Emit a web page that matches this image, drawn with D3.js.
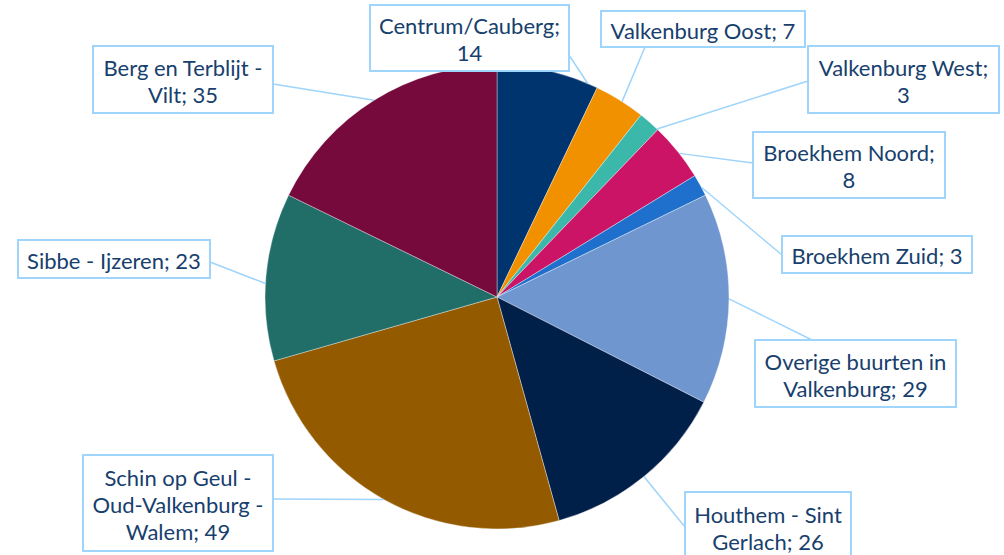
<!DOCTYPE html>
<html>
<head>
<meta charset="utf-8">
<script src="https://cdn.jsdelivr.net/npm/d3@7"></script>
<style>
  body { margin: 0; background: #fff; }
  svg { display: block; }
</style>
</head>
<body>
<svg id="pie"></svg>
<script>
const categories = ['Centrum/Cauberg', 'Valkenburg Oost', 'Valkenburg West', 'Broekhem Noord',
  'Broekhem Zuid', 'Overige buurten in Valkenburg', 'Houthem - Sint Gerlach',
  'Schin op Geul - Oud-Valkenburg - Walem', 'Sibbe - Ijzeren', 'Berg en Terblijt - Vilt'];
const values = [14, 7, 3, 8, 3, 29, 26, 49, 23, 35];
const colors = ['#00346f', '#f29100', '#3cb8aa', '#cc1466', '#1f6fcc', '#7096cf',
  '#00204a', '#935a00', '#216e69', '#760a3c'];
// label text split over lines as in the chart
const labelLines = [
  ['Centrum/Cauberg;', '14'],
  ['Valkenburg Oost; 7'],
  ['Valkenburg West;', '3'],
  ['Broekhem Noord;', '8'],
  ['Broekhem Zuid; 3'],
  ['Overige buurten in', 'Valkenburg; 29'],
  ['Houthem - Sint', 'Gerlach; 26'],
  ['Schin op Geul -', 'Oud-Valkenburg -', 'Walem; 49'],
  ['Sibbe - Ijzeren; 23'],
  ['Berg en Terblijt -', 'Vilt; 35']
];

// label box layout: x, y, w, h, leader anchor (ax, ay), leader position inside slice (t)
const boxes = [
  { x: 370, y: 5, w: 199, h: 66, ax: 569, ay: 55, t: 0.9 },
  { x: 601, y: 11, w: 204, h: 36, ax: 645, ay: 47, t: 0.55 },
  { x: 808, y: 46, w: 191, h: 67, ax: 808, ay: 81, t: 0.95 },
  { x: 753, y: 132, w: 192, h: 66, ax: 753, ay: 163, t: 0.54 },
  { x: 782, y: 236, w: 190, h: 37, ax: 782, ay: 255, t: 0.6 },
  { x: 755, y: 340, w: 201, h: 67, ax: 812, ay: 340, t: 0.5 },
  { x: 685, y: 492, w: 166, h: 70, ax: 685, ay: 527, t: 0.5 },
  { x: 83, y: 455, w: 190, h: 96, ax: 273, ay: 499, t: 0.5 },
  { x: 18, y: 240, w: 192, h: 38, ax: 210, ay: 262, t: 0.46 },
  { x: 93, y: 46, w: 180, h: 67, ax: 273, ay: 84, t: 0.5 }
];

const width = 1004, height = 555;
const cx = 497, cy = 297, radius = 232;
const lineHeight = 27;

const svg = d3.select('#pie')
  .attr('width', width)
  .attr('height', height);

const data = categories.map((c, i) => ({ name: c, value: values[i], idx: i }));

const pie = d3.pie()
  .sort(null)
  .value(d => d.value);

const arcs = pie(data);

const arc = d3.arc()
  .innerRadius(0)
  .outerRadius(radius);

const g = svg.append('g')
  .attr('transform', 'translate(' + cx + ',' + cy + ')');

g.selectAll('path')
  .data(arcs)
  .enter()
  .append('path')
  .attr('d', arc)
  .attr('fill', d => colors[d.data.idx])
  .attr('stroke', '#ffffff')
  .attr('stroke-width', 0.6)
  .attr('stroke-opacity', 0.6);

function leaderAngle(d) {
  const b = boxes[d.data.idx];
  return d.startAngle + b.t * (d.endAngle - d.startAngle);
}

// leader lines
svg.append('g')
  .selectAll('line')
  .data(arcs)
  .enter()
  .append('line')
  .attr('x1', d => cx + radius * Math.sin(leaderAngle(d)))
  .attr('y1', d => cy - radius * Math.cos(leaderAngle(d)))
  .attr('x2', d => boxes[d.data.idx].ax)
  .attr('y2', d => boxes[d.data.idx].ay)
  .attr('stroke', '#9fd4fb')
  .attr('stroke-width', 1.5);

// label boxes
const labels = svg.append('g')
  .selectAll('g')
  .data(arcs)
  .enter()
  .append('g');

labels.append('rect')
  .attr('x', d => boxes[d.data.idx].x)
  .attr('y', d => boxes[d.data.idx].y)
  .attr('width', d => boxes[d.data.idx].w)
  .attr('height', d => boxes[d.data.idx].h)
  .attr('fill', '#ffffff')
  .attr('stroke', '#9fd4fb')
  .attr('stroke-width', 2);

labels.append('text')
  .attr('text-anchor', 'middle')
  .attr('font-family', 'Lato, "Open Sans", sans-serif')
  .attr('font-size', 22)
  .attr('fill', '#17406d')
  .each(function (d) {
    const b = boxes[d.data.idx];
    const lines = labelLines[d.data.idx];
    const top = b.y + b.h / 2 - (lines.length - 1) * lineHeight / 2;
    d3.select(this)
      .selectAll('tspan')
      .data(lines)
      .enter()
      .append('tspan')
      .attr('x', b.x + b.w / 2)
      .attr('y', (l, i) => top + i * lineHeight + 2)
      .attr('dy', '0.35em')
      .text(l => l);
  });
</script>
</body>
</html>
